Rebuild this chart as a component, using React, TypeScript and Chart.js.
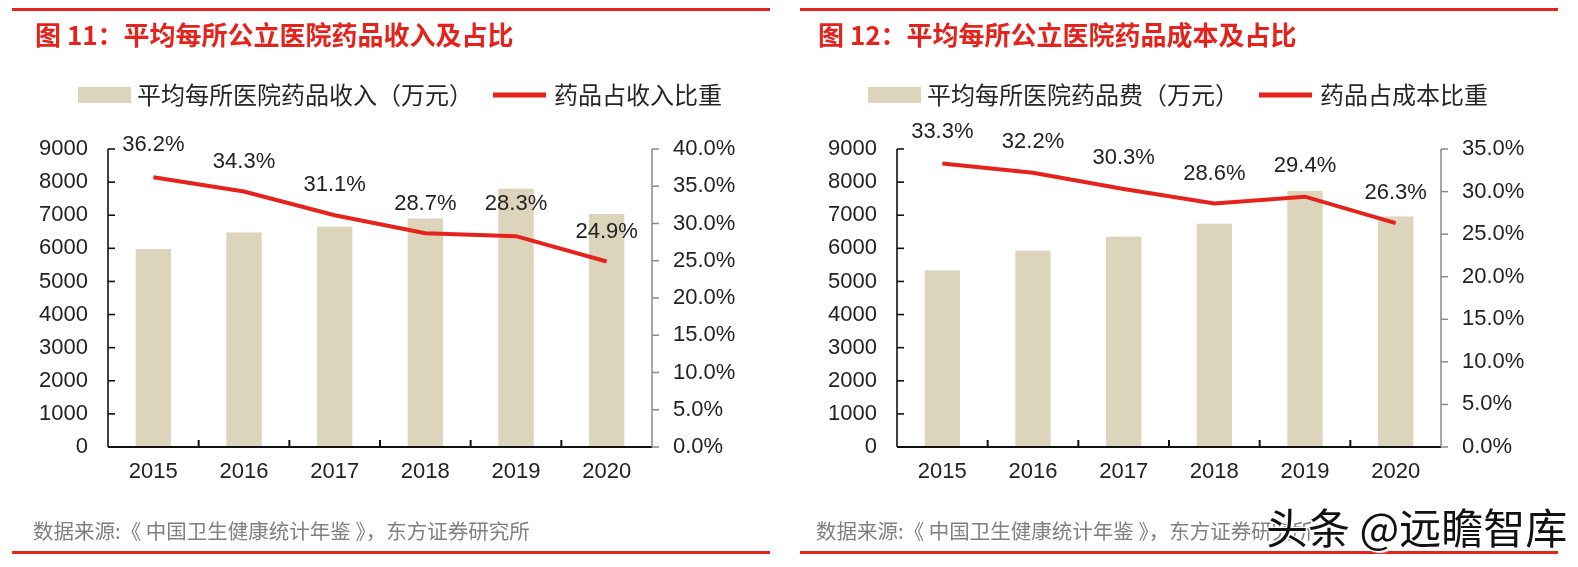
import React, { useEffect, useRef } from "react";
import { Chart, registerables } from "chart.js";
Chart.register(...registerables);

// ---- data ----
const years = ["2015", "2016", "2017", "2018", "2019", "2020"];
const revenuePerHospital = [5980, 6480, 6650, 6900, 7800, 7040];
const revenueShare = [36.2, 34.3, 31.1, 28.7, 28.3, 24.9];
const costPerHospital = [5340, 5930, 6350, 6740, 7730, 6960];
const costShare = [33.3, 32.2, 30.3, 28.6, 29.4, 26.3];
const amountTicks = [0, 1000, 2000, 3000, 4000, 5000, 6000, 7000, 8000, 9000];
const revenueShareTicks = [0, 5, 10, 15, 20, 25, 30, 35, 40];
const costShareTicks = [0, 5, 10, 15, 20, 25, 30, 35];

// ---- styles ----
const RED = "#E6221C";
const BAR = "#DDD4BC";
const TEXT = "#222222";
const NUM_FONT = "'Liberation Sans', Arial, 'Noto Sans CJK SC', sans-serif";
const CJK_FONT = "'Noto Sans CJK SC', 'Liberation Sans', sans-serif";

type Panel = {
  left: number;
  width: number;
  title: string;
  legendBar: string;
  legendLine: string;
  bars: number[];
  shares: number[];
  shareTicks: number[];
  labelLift: number[];
  legendCenter: number;
  plotLeft: number;
  plotRight: number;
  titleX: number;
};

const panels: Panel[] = [
  {
    left: 0,
    width: 790,
    title: "图 11：平均每所公立医院药品收入及占比",
    legendBar: "平均每所医院药品收入（万元）",
    legendLine: "药品占收入比重",
    bars: revenuePerHospital,
    shares: revenueShare,
    shareTicks: revenueShareTicks,
    labelLift: [32, 30, 30, 29, 32, 30],
    legendCenter: 400,
    plotLeft: 108,
    plotRight: 652,
    titleX: 35,
  },
  {
    left: 790,
    width: 788,
    title: "图 12：平均每所公立医院药品成本及占比",
    legendBar: "平均每所医院药品费（万元）",
    legendLine: "药品占成本比重",
    bars: costPerHospital,
    shares: costShare,
    shareTicks: costShareTicks,
    labelLift: [32, 31, 31, 30, 31, 30],
    legendCenter: 388,
    plotLeft: 107,
    plotRight: 651,
    titleX: 28,
  },
];

const PLOT_TOP = 149;
const PLOT_BOTTOM = 447;
const H = 567;

const decor = {
  id: "decor",
  afterDatasetsDraw(chart: any, _args: any, opts: any) {
    const { ctx, chartArea: a, scales } = chart;
    const line = (x1: number, y1: number, x2: number, y2: number) => {
      ctx.beginPath();
      ctx.moveTo(x1, y1);
      ctx.lineTo(x2, y2);
      ctx.stroke();
    };
    ctx.save();
    // left axis + inward ticks
    ctx.strokeStyle = "#111";
    ctx.lineWidth = 1.6;
    line(a.left, a.top, a.left, a.bottom);
    scales.y.ticks.forEach((t: any) => {
      const y = scales.y.getPixelForValue(t.value);
      line(a.left, y, a.left + 7, y);
    });
    // x axis + upward ticks at category boundaries
    ctx.lineWidth = 2;
    line(a.left, a.bottom, a.right, a.bottom);
    const n = chart.data.labels.length;
    for (let i = 1; i < n; i++) {
      const x = (scales.x.getPixelForValue(i - 1) + scales.x.getPixelForValue(i)) / 2;
      line(x, a.bottom, x, a.bottom - 7);
    }
    // right axis, gray, outward ticks
    ctx.strokeStyle = "#8a8a8a";
    ctx.lineWidth = 1.5;
    line(a.right, a.top, a.right, a.bottom);
    scales.y1.ticks.forEach((t: any) => {
      const y = scales.y1.getPixelForValue(t.value);
      line(a.right, y, a.right + 7, y);
    });

    // data labels
    const meta = chart.getDatasetMeta(0);
    const data = chart.data.datasets[0].data;
    ctx.fillStyle = TEXT;
    ctx.font = `22px ${NUM_FONT}`;
    ctx.textAlign = "center";
    ctx.textBaseline = "middle";
    meta.data.forEach((pt: any, i: number) => {
      ctx.fillText(Number(data[i]).toFixed(1) + "%", pt.x, pt.y - opts.labelLift[i]);
    });

    // legend
    ctx.font = `24px ${CJK_FONT}`;
    ctx.textAlign = "left";
    const barLabel = chart.data.datasets[1].label;
    const lineLabel = chart.data.datasets[0].label;
    const wb = ctx.measureText(barLabel).width;
    const wl = ctx.measureText(lineLabel).width;
    const sw = 53;
    const total = sw + 6 + wb + 20 + sw + 8 + wl;
    let x = opts.legendCenter - total / 2;
    const cy = 95;
    ctx.fillStyle = BAR;
    ctx.fillRect(x, cy - 8, sw, 16);
    x += sw + 6;
    ctx.fillStyle = "#262626";
    ctx.fillText(barLabel, x, cy);
    x += wb + 20;
    ctx.strokeStyle = RED;
    ctx.lineWidth = 5;
    line(x, cy, x + sw, cy);
    x += sw + 8;
    ctx.fillText(lineLabel, x, cy);
    ctx.restore();
  },
};

function PanelChart({ p }: { p: Panel }) {
  const ref = useRef<HTMLCanvasElement | null>(null);
  useEffect(() => {
    if (!ref.current) return;
    const tickFont = { family: NUM_FONT, size: 22 };
    const chart = new Chart(ref.current, {
      data: {
        labels: years,
        datasets: [
          {
            type: "line",
            label: p.legendLine,
            data: p.shares,
            yAxisID: "y1",
            borderColor: RED,
            backgroundColor: RED,
            borderWidth: 4,
            pointRadius: 0,
            tension: 0,
            order: 0,
          },
          {
            type: "bar",
            label: p.legendBar,
            data: p.bars,
            yAxisID: "y",
            backgroundColor: BAR,
            barPercentage: 0.39,
            categoryPercentage: 1,
            order: 1,
          },
        ],
      } as any,
      options: {
        responsive: false,
        animation: false,
        layout: { padding: { top: PLOT_TOP, left: 0, right: 0, bottom: 0 } },
        plugins: {
          legend: { display: false },
          tooltip: { enabled: false },
          decor: { labelLift: p.labelLift, legendCenter: p.legendCenter },
        } as any,
        scales: {
          x: {
            grid: { display: false, drawTicks: false },
            border: { display: false },
            ticks: { color: TEXT, font: tickFont, padding: 12 },
            afterFit: (s: any) => {
              s.height = H - PLOT_BOTTOM;
            },
          },
          y: {
            position: "left",
            min: 0,
            max: amountTicks[amountTicks.length - 1],
            grid: { display: false, drawTicks: false },
            border: { display: false },
            ticks: {
              color: TEXT,
              font: tickFont,
              padding: 20,
              callback: (v: any) => String(v),
            },
            afterBuildTicks: (s: any) => {
              s.ticks = amountTicks.map((v) => ({ value: v }));
            },
            afterFit: (s: any) => {
              s.width = p.plotLeft;
            },
          },
          y1: {
            position: "right",
            min: 0,
            max: p.shareTicks[p.shareTicks.length - 1],
            grid: { display: false, drawTicks: false },
            border: { display: false },
            ticks: {
              color: TEXT,
              font: tickFont,
              padding: 21,
              callback: (v: any) => Number(v).toFixed(1) + "%",
            },
            afterBuildTicks: (s: any) => {
              s.ticks = p.shareTicks.map((v) => ({ value: v }));
            },
            afterFit: (s: any) => {
              s.width = p.width - p.plotRight;
            },
          },
        } as any,
      },
      plugins: [decor],
    });
    return () => chart.destroy();
  }, [p]);

  return (
    <div style={{ position: "absolute", left: p.left, top: 0, width: p.width, height: H }}>
      <canvas
        ref={ref}
        width={p.width}
        height={H}
        style={{ position: "absolute", left: 0, top: 0, width: p.width, height: H }}
      />
      <div
        style={{
          position: "absolute",
          left: p.left === 0 ? 12 : 10,
          top: 8,
          width: 758,
          height: 3,
          background: RED,
        }}
      />
      <div
        style={{
          position: "absolute",
          left: p.titleX,
          top: 20,
          font: `bold 26px ${CJK_FONT}`,
          lineHeight: "28px",
          color: RED,
          whiteSpace: "nowrap",
        }}
      >
        {p.title}
      </div>
      <div
        style={{
          position: "absolute",
          left: p.titleX - 2,
          top: 518,
          font: `20.5px ${CJK_FONT}`,
          lineHeight: "24px",
          color: "#808080",
          whiteSpace: "nowrap",
        }}
      >
        数据来源:《 中国卫生健康统计年鉴 》，东方证券研究所
      </div>
      <div
        style={{
          position: "absolute",
          left: p.left === 0 ? 12 : 10,
          top: 551,
          width: 758,
          height: 3,
          background: RED,
        }}
      />
    </div>
  );
}

export default function App() {
  return (
    <div
      style={{
        position: "absolute",
        left: 0,
        top: 0,
        width: 1578,
        height: H,
        background: "#fff",
        overflow: "hidden",
      }}
    >
      {panels.map((p) => (
        <PanelChart key={p.title} p={p} />
      ))}
      <div
        style={{
          position: "absolute",
          left: 1266,
          top: 502,
          font: `42px ${CJK_FONT}`,
          lineHeight: "48px",
          color: "#111",
          whiteSpace: "nowrap",
          textShadow:
            "1px 1px 0 #fff, -1px -1px 0 #fff, 1px -1px 0 #fff, -1px 1px 0 #fff, 2px 2px 1px #fff",
        }}
      >
        头条 @远瞻智库
      </div>
    </div>
  );
}
